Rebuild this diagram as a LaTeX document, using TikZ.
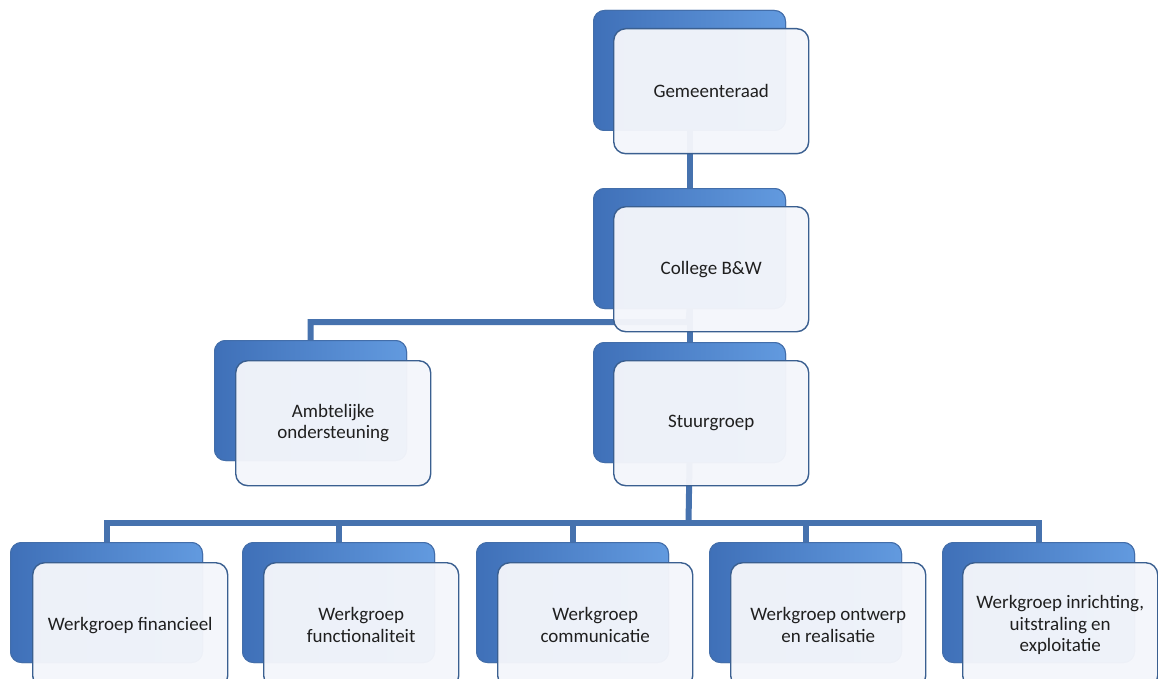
\documentclass[tikz,border=0pt]{standalone}
\usepackage{fontspec}
\setmainfont{Carlito}
\begin{document}
\begin{tikzpicture}[x=1pt,y=-1pt,
  backbox/.style={anchor=north west, minimum width=192pt, minimum height=120pt, inner sep=0pt,
    rounded corners=11pt, draw=bcol!85!black, line width=1pt, left color=bdark, right color=blight},
  frontbox/.style={anchor=north west, minimum width=195pt, minimum height=125pt, inner sep=0pt,
    rounded corners=12pt, draw=fcol, line width=1.4pt, fill=ffill, fill opacity=0.96, text opacity=1,
    align=center, font=\fontsize{19}{21.5}\selectfont, text=black!88},
  conn/.style={draw=lcol, line width=6pt}]
\definecolor{bcol}{HTML}{4F81C8}
\definecolor{bdark}{HTML}{3F70B8}
\definecolor{blight}{HTML}{629ADF}
\definecolor{fcol}{HTML}{3A5F90}
\definecolor{ffill}{HTML}{F4F6FB}
\definecolor{lcol}{HTML}{4672AE}
\useasboundingbox (0,0) rectangle (1158,679);
% back boxes
\node[backbox] (gB) at (593,10) {};
\node[backbox] (cB) at (593,188) {};
\node[backbox] (aB) at (214,340) {};
\node[backbox] (sB) at (593,342) {};
\node[backbox] (w1B) at (10,542) {};
\node[backbox] (w2B) at (242,542) {};
\node[backbox] (w3B) at (476,542) {};
\node[backbox] (w4B) at (709,542) {};
\node[backbox] (w5B) at (942,542) {};
% connectors
\coordinate (j1) at (688.5,322);
\coordinate (j2) at (688.5,523);
\draw[conn] (gB.south) -- (cB.north);
\draw[conn] (cB.south) -- (sB.north);
\draw[conn] (cB.south) -- (j1) -| (aB.north);
\draw[conn] (sB.south) -- (j2);
\foreach \w in {w1B,w2B,w3B,w4B,w5B} \draw[conn] (j2) -| (\w.north);
% redraw back boxes over connector ends
\foreach \b/\x/\y in {gB/593/10,cB/593/188,aB/214/340,sB/593/342,w1B/10/542,w2B/242/542,w3B/476/542,w4B/709/542,w5B/942/542}
  \node[backbox] (\b x) at (\x,\y) {};
% front boxes
\node[frontbox] (g) at (613,28) {Gemeenteraad};
\node[frontbox] (c) at (613,206) {College B\&W};
\node[frontbox] (a) at (235,360) {Ambtelijke\\ondersteuning};
\node[frontbox] (s) at (613,360) {Stuurgroep};
\node[frontbox] (w1) at (32,562) {Werkgroep financieel};
\node[frontbox] (w2) at (263,562) {Werkgroep\\functionaliteit};
\node[frontbox] (w3) at (497,562) {Werkgroep\\communicatie};
\node[frontbox] (w4) at (730,562) {Werkgroep ontwerp\\en realisatie};
\node[frontbox] (w5) at (962,562) {Werkgroep inrichting,\\uitstraling en\\exploitatie};
\end{tikzpicture}
\end{document}
